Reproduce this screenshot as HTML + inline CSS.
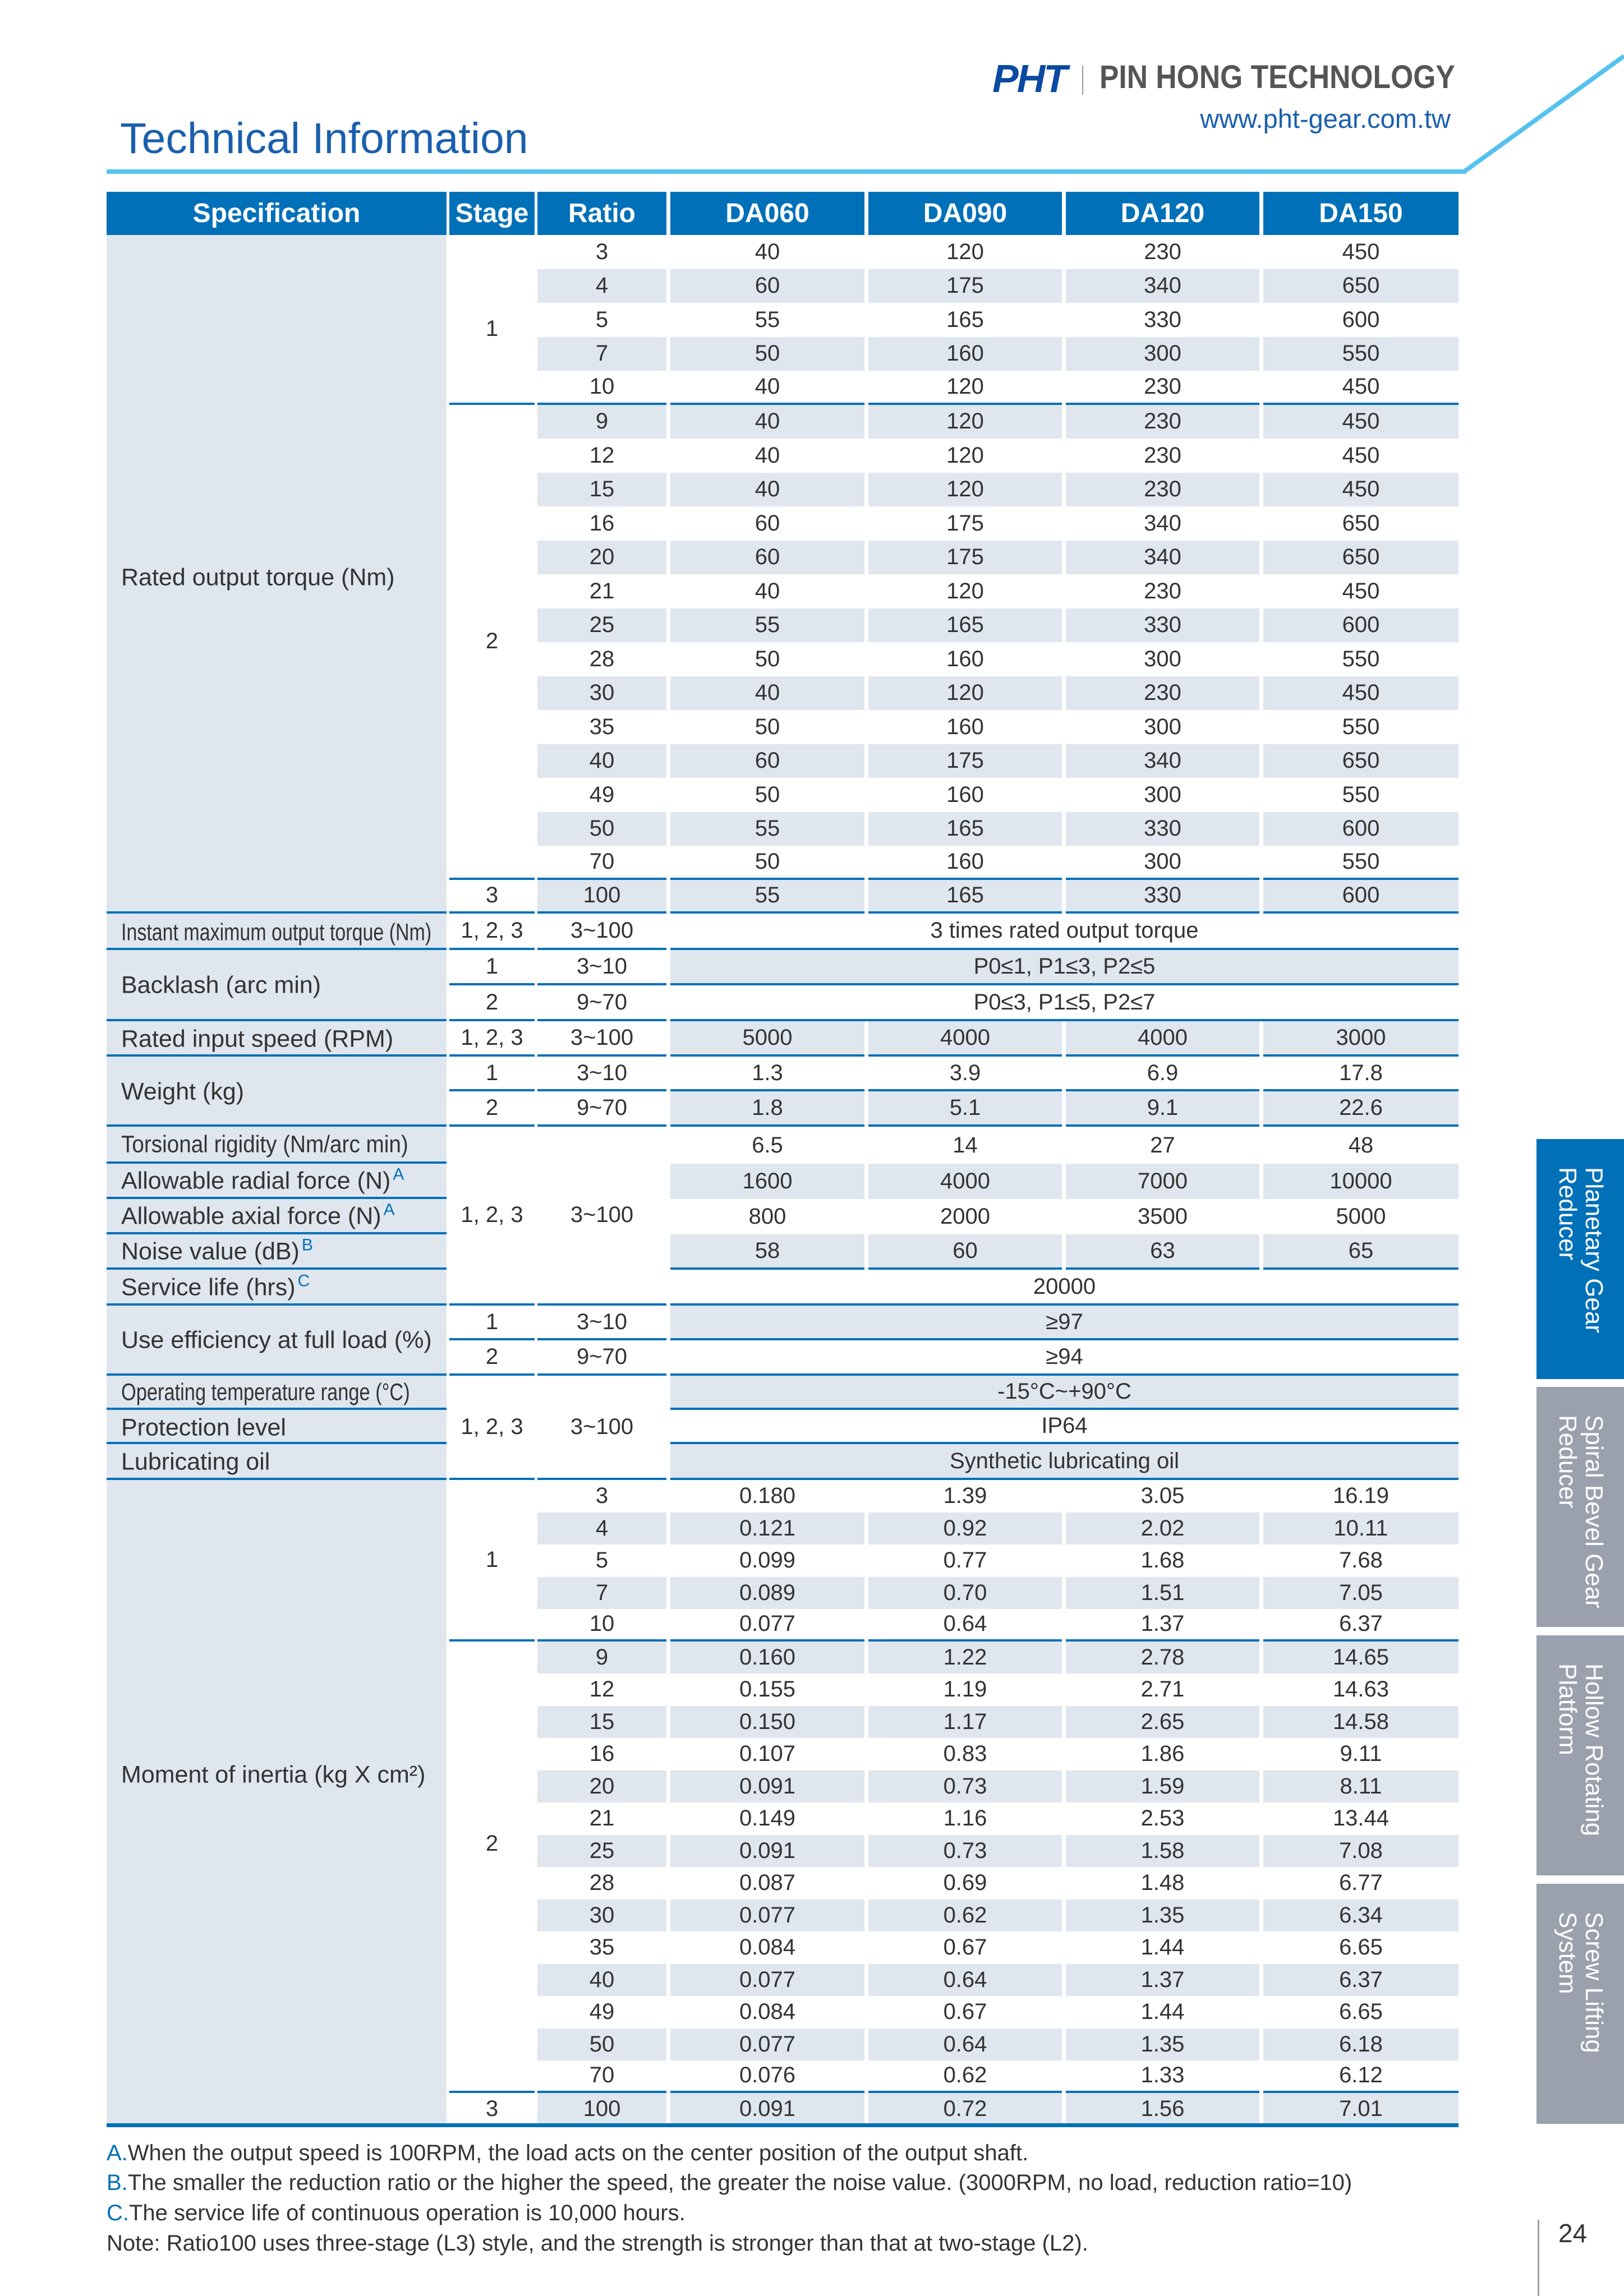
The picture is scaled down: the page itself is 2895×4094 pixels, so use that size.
<!DOCTYPE html>
<html><head><meta charset="utf-8"><style>
*{margin:0;padding:0}
body{width:2895px;height:4094px;background:#fff;position:relative;overflow:hidden;font-family:"Liberation Sans",sans-serif;color:#333}
.a{position:absolute}
.R{position:absolute;left:0;width:2700px}
.R i{position:absolute;top:0;bottom:0;display:flex;align-items:center;justify-content:center;font-style:normal;font-size:40px;color:#333;box-sizing:border-box}
.g i{background:#dfe6ee}
.b i{border-bottom:4px solid #0070b8}
.s{left:801px;width:152px}
.r{left:958px;width:230px}
.d1{left:1195px;width:346px}.d2{left:1548px;width:345px}.d3{left:1900px;width:345px}.d4{left:2252px;width:348px}
.m{left:1195px;width:1405px}
.H i{background:#0070b8;color:#fff;font-weight:bold;font-size:48px}
.sl{position:absolute;left:190px;width:606px;height:4px;background:#0070b8}
.lab{position:absolute;left:216px;font-size:43px;color:#333;transform:translateY(-50%);white-space:nowrap}
.lab sup{color:#0070b8;font-size:30px;vertical-align:top;position:relative;top:-4px;margin-left:4px}
.tab{position:absolute;left:2739px;width:156px;height:428px;color:#fff;writing-mode:vertical-rl;font-size:44px;line-height:47px;padding-top:50px;padding-right:30px;box-sizing:border-box;text-align:left}
.foot{position:absolute;left:190px;font-size:40px;color:#333;white-space:nowrap}
.foot b{color:#0070b8;font-weight:normal}
</style></head><body>

<!-- header -->
<div class="a" style="left:1769px;top:100px;font-size:70px;font-weight:bold;font-style:italic;color:#0a4aa0;letter-spacing:-3px">PHT</div>
<div class="a" style="left:1929px;top:117px;width:2px;height:52px;background:#999"></div>
<div class="a" style="left:1960px;top:104px;font-size:58px;font-weight:bold;color:#555;white-space:nowrap;transform:scaleX(0.89);transform-origin:left">PIN HONG TECHNOLOGY</div>
<div class="a" style="right:309px;top:184px;font-size:47px;color:#1a5fad;white-space:nowrap">www.pht-gear.com.tw</div>
<div class="a" style="left:214px;top:203px;font-size:77px;color:#1a5fad;white-space:nowrap">Technical Information</div>
<div class="a" style="left:190px;top:302px;width:2424px;height:8px;background:#55c2ee"></div>
<svg class="a" style="left:0;top:0" width="2895" height="320"><line x1="2610" y1="306" x2="2895" y2="100" stroke="#55c2ee" stroke-width="8"/></svg>

<!-- table header -->
<div class="R H" style="top:342px;height:77px"><i style="left:190px;width:606px">Specification</i><i class="s">Stage</i><i class="r">Ratio</i><i class="d1">DA060</i><i class="d2">DA090</i><i class="d3">DA120</i><i class="d4">DA150</i></div>

<!-- spec col bg -->
<div class="a" style="left:190px;top:419px;width:606px;height:3370px;background:#dfe6ee"></div>

<!-- torque rows -->
<div class="R" style="top:419px;height:60.5px"><i class="r">3</i><i class="d1">40</i><i class="d2">120</i><i class="d3">230</i><i class="d4">450</i></div>
<div class="R g" style="top:479.5px;height:60.5px"><i class="r">4</i><i class="d1">60</i><i class="d2">175</i><i class="d3">340</i><i class="d4">650</i></div>
<div class="R" style="top:540px;height:60.5px"><i class="r">5</i><i class="d1">55</i><i class="d2">165</i><i class="d3">330</i><i class="d4">600</i></div>
<div class="R g" style="top:600.5px;height:60.5px"><i class="r">7</i><i class="d1">50</i><i class="d2">160</i><i class="d3">300</i><i class="d4">550</i></div>
<div class="R b" style="top:661px;height:60.5px"><i class="r">10</i><i class="d1">40</i><i class="d2">120</i><i class="d3">230</i><i class="d4">450</i></div>
<div class="R g" style="top:721.5px;height:60.5px"><i class="r">9</i><i class="d1">40</i><i class="d2">120</i><i class="d3">230</i><i class="d4">450</i></div>
<div class="R" style="top:782px;height:60.5px"><i class="r">12</i><i class="d1">40</i><i class="d2">120</i><i class="d3">230</i><i class="d4">450</i></div>
<div class="R g" style="top:842.5px;height:60.5px"><i class="r">15</i><i class="d1">40</i><i class="d2">120</i><i class="d3">230</i><i class="d4">450</i></div>
<div class="R" style="top:903px;height:60.5px"><i class="r">16</i><i class="d1">60</i><i class="d2">175</i><i class="d3">340</i><i class="d4">650</i></div>
<div class="R g" style="top:963.5px;height:60.5px"><i class="r">20</i><i class="d1">60</i><i class="d2">175</i><i class="d3">340</i><i class="d4">650</i></div>
<div class="R" style="top:1024px;height:60.5px"><i class="r">21</i><i class="d1">40</i><i class="d2">120</i><i class="d3">230</i><i class="d4">450</i></div>
<div class="R g" style="top:1084.5px;height:60.5px"><i class="r">25</i><i class="d1">55</i><i class="d2">165</i><i class="d3">330</i><i class="d4">600</i></div>
<div class="R" style="top:1145px;height:60.5px"><i class="r">28</i><i class="d1">50</i><i class="d2">160</i><i class="d3">300</i><i class="d4">550</i></div>
<div class="R g" style="top:1205.5px;height:60.5px"><i class="r">30</i><i class="d1">40</i><i class="d2">120</i><i class="d3">230</i><i class="d4">450</i></div>
<div class="R" style="top:1266px;height:60.5px"><i class="r">35</i><i class="d1">50</i><i class="d2">160</i><i class="d3">300</i><i class="d4">550</i></div>
<div class="R g" style="top:1326.5px;height:60.5px"><i class="r">40</i><i class="d1">60</i><i class="d2">175</i><i class="d3">340</i><i class="d4">650</i></div>
<div class="R" style="top:1387px;height:60.5px"><i class="r">49</i><i class="d1">50</i><i class="d2">160</i><i class="d3">300</i><i class="d4">550</i></div>
<div class="R g" style="top:1447.5px;height:60.5px"><i class="r">50</i><i class="d1">55</i><i class="d2">165</i><i class="d3">330</i><i class="d4">600</i></div>
<div class="R b" style="top:1508px;height:60.5px"><i class="r">70</i><i class="d1">50</i><i class="d2">160</i><i class="d3">300</i><i class="d4">550</i></div>
<div class="R g b" style="top:1568.5px;height:60.5px"><i class="r">100</i><i class="d1">55</i><i class="d2">165</i><i class="d3">330</i><i class="d4">600</i></div>
<div class="R b" style="top:419px;height:302.5px"><i class="s" style="padding-top:36px">1</i></div>
<div class="R b" style="top:721.5px;height:847px"><i class="s">2</i></div>
<div class="R b" style="top:1568.5px;height:60.5px"><i class="s">3</i></div>
<div class="lab" style="top:1030px">Rated output torque (Nm)</div>
<div class="sl" style="top:1625px"></div>

<!-- middle rows -->
<div class="R b" style="top:1629px;height:65px"><i class="s">1, 2, 3</i><i class="r">3~100</i><i class="m">3 times rated output torque</i></div>
<div class="R b" style="top:1694px;height:63px"><i class="s">1</i><i class="r">3~10</i></div>
<div class="R g b" style="top:1694px;height:63px"><i class="m">P0≤1, P1≤3, P2≤5</i></div>
<div class="R b" style="top:1757px;height:64px"><i class="s">2</i><i class="r">9~70</i><i class="m">P0≤3, P1≤5, P2≤7</i></div>
<div class="R b" style="top:1821px;height:63px"><i class="s">1, 2, 3</i><i class="r">3~100</i></div>
<div class="R g b" style="top:1821px;height:63px"><i class="d1">5000</i><i class="d2">4000</i><i class="d3">4000</i><i class="d4">3000</i></div>
<div class="R b" style="top:1884px;height:62px"><i class="s">1</i><i class="r">3~10</i><i class="d1">1.3</i><i class="d2">3.9</i><i class="d3">6.9</i><i class="d4">17.8</i></div>
<div class="R b" style="top:1946px;height:63px"><i class="s">2</i><i class="r">9~70</i></div>
<div class="R g b" style="top:1946px;height:63px"><i class="d1">1.8</i><i class="d2">5.1</i><i class="d3">9.1</i><i class="d4">22.6</i></div>
<div class="R" style="top:2009px;height:66px"><i class="d1">6.5</i><i class="d2">14</i><i class="d3">27</i><i class="d4">48</i></div>
<div class="R g" style="top:2075px;height:63px"><i class="d1">1600</i><i class="d2">4000</i><i class="d3">7000</i><i class="d4">10000</i></div>
<div class="R" style="top:2138px;height:63px"><i class="d1">800</i><i class="d2">2000</i><i class="d3">3500</i><i class="d4">5000</i></div>
<div class="R g b" style="top:2201px;height:63px"><i class="d1">58</i><i class="d2">60</i><i class="d3">63</i><i class="d4">65</i></div>
<div class="R b" style="top:2264px;height:64px"><i class="m">20000</i></div>
<div class="R b" style="top:2009px;height:319px"><i class="s">1, 2, 3</i><i class="r">3~100</i></div>
<div class="R b" style="top:2328px;height:62px"><i class="s">1</i><i class="r">3~10</i></div>
<div class="R g b" style="top:2328px;height:62px"><i class="m">≥97</i></div>
<div class="R b" style="top:2390px;height:63px"><i class="s">2</i><i class="r">9~70</i><i class="m">≥94</i></div>
<div class="R g b" style="top:2453px;height:61px"><i class="m">-15°C~+90°C</i></div>
<div class="R b" style="top:2514px;height:61px"><i class="m">IP64</i></div>
<div class="R g b" style="top:2575px;height:64px"><i class="m">Synthetic lubricating oil</i></div>
<div class="R b" style="top:2453px;height:186px"><i class="s">1, 2, 3</i><i class="r">3~100</i></div>

<div class="lab" style="top:1663px;font-size:43px;transform:translateY(-50%) scaleX(0.79);transform-origin:left">Instant maximum output torque (Nm)</div>
<div class="sl" style="top:1690px"></div>
<div class="lab" style="top:1757px">Backlash (arc min)</div>
<div class="sl" style="top:1817px"></div>
<div class="lab" style="top:1853px">Rated input speed (RPM)</div>
<div class="sl" style="top:1880px"></div>
<div class="lab" style="top:1947px">Weight (kg)</div>
<div class="sl" style="top:2005px"></div>
<div class="lab" style="top:2041px;transform:translateY(-50%) scaleX(0.9);transform-origin:left">Torsional rigidity (Nm/arc min)</div>
<div class="sl" style="top:2071px"></div>
<div class="lab" style="top:2106px">Allowable radial force (N)<sup>A</sup></div>
<div class="sl" style="top:2134px"></div>
<div class="lab" style="top:2169px">Allowable axial force (N)<sup>A</sup></div>
<div class="sl" style="top:2197px"></div>
<div class="lab" style="top:2232px">Noise value (dB)<sup>B</sup></div>
<div class="sl" style="top:2260px"></div>
<div class="lab" style="top:2296px">Service life (hrs)<sup>C</sup></div>
<div class="sl" style="top:2324px"></div>
<div class="lab" style="top:2390px">Use efficiency at full load (%)</div>
<div class="sl" style="top:2449px"></div>
<div class="lab" style="top:2483px;transform:translateY(-50%) scaleX(0.8);transform-origin:left">Operating temperature range (°C)</div>
<div class="sl" style="top:2510px"></div>
<div class="lab" style="top:2546px">Protection level</div>
<div class="sl" style="top:2571px"></div>
<div class="lab" style="top:2607px">Lubricating oil</div>
<div class="sl" style="top:2635px"></div>

<!-- inertia rows -->
<div class="R" style="top:2639px;height:57.5px"><i class="r">3</i><i class="d1">0.180</i><i class="d2">1.39</i><i class="d3">3.05</i><i class="d4">16.19</i></div>
<div class="R g" style="top:2696.5px;height:57.5px"><i class="r">4</i><i class="d1">0.121</i><i class="d2">0.92</i><i class="d3">2.02</i><i class="d4">10.11</i></div>
<div class="R" style="top:2754px;height:57.5px"><i class="r">5</i><i class="d1">0.099</i><i class="d2">0.77</i><i class="d3">1.68</i><i class="d4">7.68</i></div>
<div class="R g" style="top:2811.5px;height:57.5px"><i class="r">7</i><i class="d1">0.089</i><i class="d2">0.70</i><i class="d3">1.51</i><i class="d4">7.05</i></div>
<div class="R b" style="top:2869px;height:57.5px"><i class="r">10</i><i class="d1">0.077</i><i class="d2">0.64</i><i class="d3">1.37</i><i class="d4">6.37</i></div>
<div class="R g" style="top:2926.5px;height:57.5px"><i class="r">9</i><i class="d1">0.160</i><i class="d2">1.22</i><i class="d3">2.78</i><i class="d4">14.65</i></div>
<div class="R" style="top:2984px;height:57.5px"><i class="r">12</i><i class="d1">0.155</i><i class="d2">1.19</i><i class="d3">2.71</i><i class="d4">14.63</i></div>
<div class="R g" style="top:3041.5px;height:57.5px"><i class="r">15</i><i class="d1">0.150</i><i class="d2">1.17</i><i class="d3">2.65</i><i class="d4">14.58</i></div>
<div class="R" style="top:3099px;height:57.5px"><i class="r">16</i><i class="d1">0.107</i><i class="d2">0.83</i><i class="d3">1.86</i><i class="d4">9.11</i></div>
<div class="R g" style="top:3156.5px;height:57.5px"><i class="r">20</i><i class="d1">0.091</i><i class="d2">0.73</i><i class="d3">1.59</i><i class="d4">8.11</i></div>
<div class="R" style="top:3214px;height:57.5px"><i class="r">21</i><i class="d1">0.149</i><i class="d2">1.16</i><i class="d3">2.53</i><i class="d4">13.44</i></div>
<div class="R g" style="top:3271.5px;height:57.5px"><i class="r">25</i><i class="d1">0.091</i><i class="d2">0.73</i><i class="d3">1.58</i><i class="d4">7.08</i></div>
<div class="R" style="top:3329px;height:57.5px"><i class="r">28</i><i class="d1">0.087</i><i class="d2">0.69</i><i class="d3">1.48</i><i class="d4">6.77</i></div>
<div class="R g" style="top:3386.5px;height:57.5px"><i class="r">30</i><i class="d1">0.077</i><i class="d2">0.62</i><i class="d3">1.35</i><i class="d4">6.34</i></div>
<div class="R" style="top:3444px;height:57.5px"><i class="r">35</i><i class="d1">0.084</i><i class="d2">0.67</i><i class="d3">1.44</i><i class="d4">6.65</i></div>
<div class="R g" style="top:3501.5px;height:57.5px"><i class="r">40</i><i class="d1">0.077</i><i class="d2">0.64</i><i class="d3">1.37</i><i class="d4">6.37</i></div>
<div class="R" style="top:3559px;height:57.5px"><i class="r">49</i><i class="d1">0.084</i><i class="d2">0.67</i><i class="d3">1.44</i><i class="d4">6.65</i></div>
<div class="R g" style="top:3616.5px;height:57.5px"><i class="r">50</i><i class="d1">0.077</i><i class="d2">0.64</i><i class="d3">1.35</i><i class="d4">6.18</i></div>
<div class="R b" style="top:3674px;height:57.5px"><i class="r">70</i><i class="d1">0.076</i><i class="d2">0.62</i><i class="d3">1.33</i><i class="d4">6.12</i></div>
<div class="R g" style="top:3731.5px;height:57.5px"><i class="r">100</i><i class="d1">0.091</i><i class="d2">0.72</i><i class="d3">1.56</i><i class="d4">7.01</i></div>
<div class="R b" style="top:2639px;height:288px"><i class="s">1</i></div>
<div class="R b" style="top:2926.5px;height:805px"><i class="s" style="padding-top:0;padding-bottom:80px">2</i></div>
<div class="R" style="top:3731.5px;height:57.5px"><i class="s">3</i></div>
<div class="lab" style="top:3165px">Moment of inertia (kg X cm²)</div>
<div class="a" style="left:190px;top:3786px;width:2410px;height:7px;background:#0070b8"></div>

<!-- footnotes -->
<div class="foot" style="top:3817px"><b>A.</b>When the output speed is 100RPM, the load acts on the center position of the output shaft.</div>
<div class="foot" style="top:3870px"><b>B.</b>The smaller the reduction ratio or the higher the speed, the greater the noise value. (3000RPM, no load, reduction ratio=10)</div>
<div class="foot" style="top:3924px"><b>C.</b>The service life of continuous operation is 10,000 hours.</div>
<div class="foot" style="top:3978px">Note: Ratio100 uses three-stage (L3) style, and the strength is stronger than that at two-stage (L2).</div>

<!-- side tabs -->
<div class="tab" style="top:2031px;background:#0070b8">Planetary Gear<br>Reducer</div>
<div class="tab" style="top:2473px;background:#9aa0ac">Spiral Bevel Gear<br>Reducer</div>
<div class="tab" style="top:2916px;background:#9aa0ac">Hollow Rotating<br>Platform</div>
<div class="tab" style="top:3359px;background:#9aa0ac">Screw Lifting<br>System</div>

<div class="a" style="left:2741px;top:3958px;width:3px;height:136px;background:#9aa0ac"></div>
<div class="a" style="left:2778px;top:3955px;font-size:46px;color:#333">24</div>
</body></html>
